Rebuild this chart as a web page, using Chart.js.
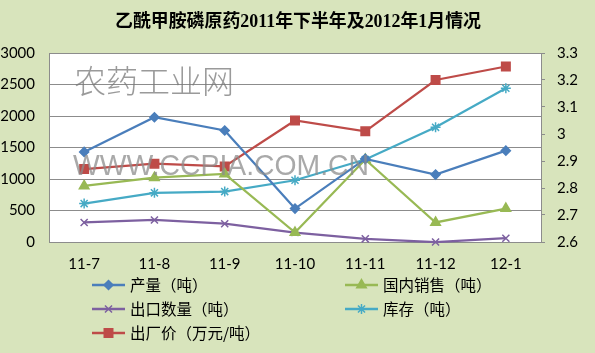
<!DOCTYPE html>
<html>
<head>
<meta charset="utf-8">
<script src="https://cdn.jsdelivr.net/npm/chart.js@4/dist/chart.umd.min.js"></script>
<style>
  html, body { margin: 0; padding: 0; background: #D8E4BC; }
  #wrap { position: relative; width: 595px; height: 353px; }
  canvas { display: block; }
</style>
</head>
<body>
<div id="wrap"><canvas id="c" width="595" height="353"></canvas></div>
<script>
// ---- Data ----
const titleText = '乙酰甲胺磷原药2011年下半年及2012年1月情况';
const categories = ['11-7', '11-8', '11-9', '11-10', '11-11', '11-12', '12-1'];
const seriesNames = ['产量（吨）', '国内销售（吨）', '出口数量（吨）', '库存（吨）', '出厂价（万元/吨）'];
const outputTons = [1430, 1980, 1770, 530, 1320, 1070, 1450];
const domesticSalesTons = [890, 1020, 1080, 150, 1310, 310, 530];
const exportTons = [310, 350, 290, 150, 50, 0, 60];
const inventoryTons = [610, 780, 800, 980, 1310, 1820, 2440];
const exFactoryPrice = [2.87, 2.89, 2.88, 3.05, 3.01, 3.20, 3.25];
const leftTickValues = [0, 500, 1000, 1500, 2000, 2500, 3000];
const rightTickValues = [2.6, 2.7, 2.8, 2.9, 3.0, 3.1, 3.2, 3.3];
const watermarkCn = '农药工业网';
const watermarkUrl = 'WWW.CCPIA.COM.CN';

const GRID = '#8C8C8C';
const tickFont = { family: 'Lato, "Liberation Sans", sans-serif', size: 15 };

const bgPlugin = {
  id: 'bg',
  beforeDraw(chart) {
    const { ctx, chartArea: a } = chart;
    ctx.save();
    ctx.fillStyle = '#D8E4BC';
    ctx.fillRect(0, 0, chart.width, chart.height);
    ctx.fillStyle = '#FFFFFF';
    ctx.fillRect(a.left, a.top, a.right - a.left, a.bottom - a.top);
    ctx.restore();
  }
};

const titlePlugin = {
  id: 'titleText',
  afterDraw(chart) {
    const ctx = chart.ctx;
    ctx.save();
    ctx.fillStyle = '#000';
    ctx.font = 'bold 18px "Liberation Serif", "Noto Sans CJK SC", serif';
    ctx.textAlign = 'center';
    ctx.textBaseline = 'middle';
    ctx.fillText(titleText, 298, 22, 366);
    ctx.restore();
  }
};

const watermarkPlugin = {
  id: 'watermark',
  afterDatasetsDraw(chart) {
    const ctx = chart.ctx;
    ctx.save();
    ctx.textAlign = 'left';
    ctx.textBaseline = 'alphabetic';
    ctx.fillStyle = 'rgba(120,120,120,0.75)';
    ctx.font = '300 32px "Noto Sans CJK SC", sans-serif';
    ctx.fillText(watermarkCn, 74, 93, 160);
    ctx.fillStyle = 'rgba(140,140,140,0.75)';
    ctx.font = '29px "Liberation Sans", sans-serif';
    ctx.fillText(watermarkUrl, 73, 175, 296);
    ctx.restore();
  }
};

function drawMarker(ctx, style, r, x, y) {
  if (Chart.helpers && Chart.helpers.drawPoint) {
    Chart.helpers.drawPoint(ctx, { pointStyle: style, radius: r, borderWidth: 1.5, rotation: 0 }, x, y);
  }
}

const legendPlugin = {
  id: 'customLegend',
  afterDraw(chart) {
    const ctx = chart.ctx;
    const slots = [
      { x: 92, y: 285 }, { x: 345, y: 285 },
      { x: 92, y: 309 }, { x: 345, y: 309 },
      { x: 92, y: 333 }
    ];
    ctx.save();
    chart.data.datasets.forEach((ds, i) => {
      const s = slots[i];
      ctx.strokeStyle = ds.borderColor;
      ctx.lineWidth = 2.5;
      ctx.beginPath();
      ctx.moveTo(s.x, s.y);
      ctx.lineTo(s.x + 33, s.y);
      ctx.stroke();
      ctx.fillStyle = ds.pointBackgroundColor;
      ctx.strokeStyle = ds.pointBorderColor;
      ctx.lineWidth = 1.5;
      drawMarker(ctx, ds.pointStyle, ds.pointRadius, s.x + 16.5, s.y);
      ctx.fillStyle = '#000';
      ctx.font = '15.5px "Noto Sans CJK SC", sans-serif';
      ctx.textAlign = 'left';
      ctx.textBaseline = 'middle';
      ctx.fillText(ds.label, s.x + 38, s.y);
    });
    ctx.restore();
  }
};

function mkDs(label, data, color, style, radius, axis, fill) {
  return {
    label, data, yAxisID: axis,
    borderColor: color, borderWidth: 2.25,
    pointStyle: style, pointRadius: radius, pointHoverRadius: radius,
    pointBackgroundColor: fill || color, pointBorderColor: color, pointBorderWidth: 1.5,
    tension: 0, clip: false
  };
}

new Chart(document.getElementById('c'), {
  type: 'line',
  data: {
    labels: categories,
    datasets: [
      mkDs(seriesNames[0], outputTons, '#4A7EBB', 'rectRot', 4.5, 'y'),
      mkDs(seriesNames[1], domesticSalesTons, '#98B954', 'triangle', 5.5, 'y'),
      mkDs(seriesNames[2], exportTons, '#7D60A0', 'crossRot', 5, 'y'),
      mkDs(seriesNames[3], inventoryTons, '#46AAC5', 'star', 5, 'y'),
      mkDs(seriesNames[4], exFactoryPrice, '#BE4B48', 'rect', 6, 'y1')
    ]
  },
  options: {
    responsive: false,
    animation: false,
    devicePixelRatio: 1,
    layout: { padding: { top: 53, left: 0, right: 0, bottom: 0 } },
    plugins: { legend: { display: false }, title: { display: false }, tooltip: { enabled: false } },
    scales: {
      x: {
        type: 'category',
        offset: true,
        grid: { display: false, drawTicks: false },
        border: { display: true, color: GRID, width: 1 },
        ticks: { color: '#000', font: tickFont, padding: 13, maxRotation: 0, autoSkip: false },
        afterFit(s) { s.height = 111; }
      },
      y: {
        position: 'left',
        min: 0, max: 3000,
        afterBuildTicks(s) { s.ticks = leftTickValues.map(v => ({ value: v })); },
        grid: { color: GRID, lineWidth: 1, drawTicks: false },
        border: { display: true, color: GRID, width: 1 },
        ticks: { color: '#000', font: tickFont, padding: 14, callback: v => String(v) },
        afterFit(s) { s.width = 49; }
      },
      y1: {
        position: 'right',
        min: 2.6, max: 3.3,
        afterBuildTicks(s) { s.ticks = rightTickValues.map(v => ({ value: v })); },
        grid: { drawOnChartArea: false, drawTicks: true, tickLength: 4, color: GRID },
        border: { display: true, color: GRID, width: 1 },
        ticks: { color: '#000', font: tickFont, padding: 12, callback: v => String(Number(v.toFixed(1))) },
        afterFit(s) { s.width = 54; }
      }
    }
  },
  plugins: [bgPlugin, watermarkPlugin, titlePlugin, legendPlugin]
});
</script>
</body>
</html>
